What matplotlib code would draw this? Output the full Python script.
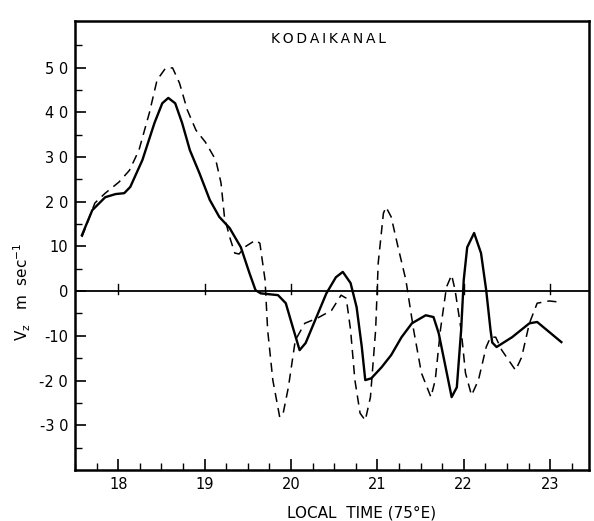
import matplotlib
matplotlib.use("Agg")
import matplotlib.pyplot as plt
from matplotlib.ticker import MultipleLocator, FixedLocator

# Solid curve (local time in hours, Vz in m/s)
solid_t = [17.58, 17.70, 17.85, 17.97, 18.07, 18.14, 18.28, 18.42, 18.51, 18.58,
           18.66, 18.74, 18.83, 18.94, 19.06, 19.17, 19.29, 19.42, 19.52, 19.59,
           19.65, 19.85, 19.94, 20.02, 20.10, 20.17, 20.28, 20.41, 20.52, 20.60,
           20.69, 20.76, 20.82, 20.86, 20.93, 21.05, 21.16, 21.28, 21.40, 21.56,
           21.65, 21.71, 21.79, 21.86, 21.92, 21.97, 22.00, 22.04, 22.12, 22.20,
           22.26, 22.31, 22.33, 22.38, 22.56, 22.76, 22.85, 23.13]
solid_v = [12.5, 18.1, 21.0, 21.7, 21.9, 23.3, 29.3, 37.6, 42.0, 43.2,
           42.0, 37.6, 31.5, 26.4, 20.4, 16.6, 14.1, 9.8, 4.0, 0.2,
           -0.5, -0.9, -2.7, -8.0, -13.2, -11.6, -6.5, -0.5, 3.1, 4.3,
           1.8, -3.6, -12.5, -19.9, -19.5, -17.0, -14.3, -10.3, -7.2, -5.4,
           -5.8, -9.4, -17.0, -23.7, -21.5, -8.7, 2.5, 9.8, 13.0, 8.5,
           0.2, -8.7, -11.5, -12.5, -10.3, -7.2, -6.9, -11.4]

# Dashed curve
dash_t = [17.58, 17.73, 17.85, 18.01, 18.13, 18.24, 18.36, 18.45, 18.55, 18.63,
          18.71, 18.80, 18.90, 19.01, 19.13, 19.19, 19.23, 19.29, 19.35, 19.40,
          19.46, 19.59, 19.64, 19.70, 19.73, 19.79, 19.87, 19.91, 19.97, 20.05,
          20.16, 20.31, 20.47, 20.58, 20.64, 20.69, 20.74, 20.80, 20.86, 20.92,
          20.98, 21.01, 21.07, 21.10, 21.16, 21.24, 21.33, 21.42, 21.51, 21.62,
          21.67, 21.73, 21.80, 21.86, 21.90, 21.97, 22.02, 22.09, 22.17, 22.26,
          22.31, 22.37, 22.44, 22.60, 22.67, 22.76, 22.85, 22.99, 23.13]
dash_v = [12.1, 19.7, 21.9, 24.4, 27.0, 31.5, 39.8, 47.2, 49.9, 49.9,
          46.5, 40.5, 36.0, 33.3, 29.3, 24.2, 16.6, 12.1, 8.5, 8.3,
          9.8, 11.4, 10.7, 2.5, -8.7, -19.9, -28.2, -27.3, -21.5, -11.0,
          -7.2, -6.0, -4.3, -0.9, -1.6, -8.7, -19.9, -27.3, -28.9, -23.7,
          -8.7, 6.3, 17.4, 18.8, 16.6, 9.8, 2.5, -8.7, -18.3, -23.7,
          -19.9, -8.7, 0.9, 3.6, 0.2, -8.7, -18.3, -23.3, -19.9, -12.5,
          -10.3, -10.3, -13.2, -17.7, -14.8, -7.2, -2.7, -2.2, -2.5]

y_ticks = [-30, -20, -10, 0, 10, 20, 30, 40, 50]
y_ticklabels = ["-3 0", "-2 0", "-10", "0", "10", "2 0", "3 0", "4 0", "5 0"]
y_minor = [-35, -25, -15, -5, 5, 15, 25, 35, 45, 55]
x_ticks = [18, 19, 20, 21, 22, 23]
x_ticklabels = ["18", "19", "20", "21", "22", "23"]

fig = plt.figure(figsize=(5.94, 5.21), dpi=100)
ax = fig.add_axes([75/594, 1-470/521, (589-75)/594, (470-21)/521])

ax.plot(solid_t, solid_v, color="black", lw=1.7, solid_joinstyle="round")
ax.plot(dash_t, dash_v, color="black", lw=1.1, dashes=(6, 4))

# zero line with small cross ticks at each hour
ax.axhline(0, color="black", lw=1.3)
for t in x_ticks:
    ax.plot([t, t], [-0.6, 1.6], color="black", lw=1.0)

ax.set_xlim(17.5, 23.45)
ax.set_ylim(-40, 60.4)
ax.set_xticks(x_ticks)
ax.set_xticklabels(x_ticklabels)
ax.set_yticks(y_ticks)
ax.set_yticklabels(y_ticklabels)
ax.xaxis.set_minor_locator(MultipleLocator(0.25))
ax.yaxis.set_minor_locator(FixedLocator(y_minor))
ax.tick_params(which="major", direction="in", length=8, width=1.2, labelsize=10.5, pad=5)
ax.tick_params(which="minor", direction="in", length=5, width=1.0)
for sp in ax.spines.values():
    sp.set_linewidth(1.8)

ax.text(20.44, 56.3, "K O D A I K A N A L".replace(" ", "\u2009"), ha="center", va="center",
        fontsize=10)
fig.text(362/594, 1-513/521, "LOCAL  TIME (75°E)", ha="center", va="center", fontsize=11)
fig.text(22/594, 1-292/521, r"$\mathsf{V_z}$   m  sec$^{-1}$", rotation=90,
         ha="center", va="center", fontsize=11)

fig.savefig("out.png", dpi=100)
